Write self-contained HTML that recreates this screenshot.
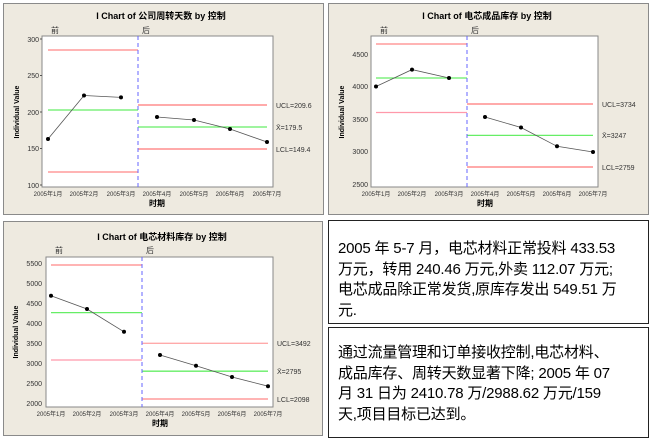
<!DOCTYPE html>
<html><head><meta charset="utf-8"><style>
body{margin:0;width:653px;height:441px;background:#fff;overflow:hidden;position:relative;font-family:"Liberation Sans","Noto Sans CJK SC",sans-serif}
.box{position:absolute;background:#fff;border:1px solid #222;box-sizing:border-box;font-family:"Liberation Sans","Noto Sans CJK SC",sans-serif;font-size:15px;color:#000;line-height:20.5px;padding-left:9px;white-space:nowrap;letter-spacing:-0.2px}
svg{position:absolute;left:0;top:0}
</style></head><body>
<svg width="653" height="441" xmlns="http://www.w3.org/2000/svg" font-family="Liberation Sans, Noto Sans CJK SC, sans-serif">
<g>
<rect x="3.5" y="3.5" width="320" height="211" fill="#eeeae0" stroke="#8a8a8a"/>
<rect x="42" y="36" width="231" height="151" fill="#fff" stroke="#888"/>
<text x="161" y="19" font-size="9" font-weight="bold" text-anchor="middle">I Chart of 公司周转天数 by 控制</text>
<text x="51" y="33" font-size="8" fill="#333">前</text><text x="142" y="33" font-size="8" fill="#333">后</text>
<g font-size="7" fill="#333" text-anchor="end"><text x="39" y="42">300</text><text x="39" y="78">250</text><text x="39" y="115">200</text><text x="39" y="151">150</text><text x="39" y="188">100</text></g>
<g stroke="#555"><line x1="40" x2="42" y1="39" y2="39"/><line x1="40" x2="42" y1="75.5" y2="75.5"/><line x1="40" x2="42" y1="112" y2="112"/><line x1="40" x2="42" y1="148.5" y2="148.5"/><line x1="40" x2="42" y1="185" y2="185"/></g>
<text transform="translate(19,112) rotate(-90)" font-size="7" font-weight="bold" text-anchor="middle">Individual Value</text>
<g stroke-width="1.3"><line x1="48" x2="138" y1="50" y2="50" stroke="#f88"/><line x1="48" x2="138" y1="110" y2="110" stroke="#6e6"/><line x1="48" x2="138" y1="172" y2="172" stroke="#f88"/>
<line x1="138" x2="267" y1="105" y2="105" stroke="#f77"/><line x1="138" x2="267" y1="127" y2="127" stroke="#6e6"/><line x1="138" x2="267" y1="149" y2="149" stroke="#f77"/></g>
<line x1="138" x2="138" y1="36" y2="187" stroke="#66f" stroke-dasharray="4,3"/>
<polyline points="48,139 84,95.5 121,97.4" fill="none" stroke="#555" stroke-width="0.8"/><polyline points="157,117 194,120 230,129 267,142" fill="none" stroke="#555" stroke-width="0.8"/>
<g fill="#000"><circle cx="48" cy="139" r="2"/><circle cx="84" cy="95.5" r="2"/><circle cx="121" cy="97.4" r="2"/><circle cx="157" cy="117" r="2"/><circle cx="194" cy="120" r="2"/><circle cx="230" cy="129" r="2"/><circle cx="267" cy="142" r="2"/></g>
<g font-size="7" fill="#333"><text x="276" y="108">UCL=209.6</text><text x="276" y="130">X̄=179.5</text><text x="276" y="152">LCL=149.4</text></g>
<g font-size="6" fill="#333" text-anchor="middle"><text x="48" y="196">2005年1月</text><text x="84" y="196">2005年2月</text><text x="121" y="196">2005年3月</text><text x="157" y="196">2005年4月</text><text x="194" y="196">2005年5月</text><text x="230" y="196">2005年6月</text><text x="267" y="196">2005年7月</text></g>
<text x="157" y="206" font-size="8" font-weight="bold" text-anchor="middle">时期</text>
</g>
<g>
<rect x="328.5" y="3.5" width="320" height="211" fill="#eeeae0" stroke="#8a8a8a"/>
<rect x="371" y="36" width="227" height="151" fill="#fff" stroke="#888"/>
<text x="487" y="19" font-size="9" font-weight="bold" text-anchor="middle">I Chart of 电芯成品库存 by 控制</text>
<text x="380" y="33" font-size="8" fill="#333">前</text><text x="471" y="33" font-size="8" fill="#333">后</text>
<g font-size="7" fill="#333" text-anchor="end"><text x="368" y="57">4500</text><text x="368" y="89">4000</text><text x="368" y="122">3500</text><text x="368" y="154">3000</text><text x="368" y="187">2500</text></g>
<text transform="translate(344,112) rotate(-90)" font-size="7" font-weight="bold" text-anchor="middle">Individual Value</text>
<g stroke-width="1.3"><line x1="376" x2="467" y1="44" y2="44" stroke="#f88"/><line x1="376" x2="467" y1="78" y2="78" stroke="#6e6"/><line x1="376" x2="467" y1="112.5" y2="112.5" stroke="#f9a"/>
<line x1="467" x2="593" y1="104" y2="104" stroke="#f77"/><line x1="467" x2="593" y1="135.4" y2="135.4" stroke="#6e6"/><line x1="467" x2="593" y1="167" y2="167" stroke="#f77"/></g>
<line x1="467" x2="467" y1="36" y2="187" stroke="#66f" stroke-dasharray="4,3"/>
<polyline points="376,86.5 412,69.6 449,78" fill="none" stroke="#555" stroke-width="0.8"/><polyline points="485,117 521,127.5 557,146.3 593,152" fill="none" stroke="#555" stroke-width="0.8"/>
<g fill="#000"><circle cx="376" cy="86.5" r="2"/><circle cx="412" cy="69.6" r="2"/><circle cx="449" cy="78" r="2"/><circle cx="485" cy="117" r="2"/><circle cx="521" cy="127.5" r="2"/><circle cx="557" cy="146.3" r="2"/><circle cx="593" cy="152" r="2"/></g>
<g font-size="7" fill="#333"><text x="602" y="107">UCL=3734</text><text x="602" y="138">X̄=3247</text><text x="602" y="170">LCL=2759</text></g>
<g font-size="6" fill="#333" text-anchor="middle"><text x="376" y="196">2005年1月</text><text x="412" y="196">2005年2月</text><text x="449" y="196">2005年3月</text><text x="485" y="196">2005年4月</text><text x="521" y="196">2005年5月</text><text x="557" y="196">2005年6月</text><text x="593" y="196">2005年7月</text></g>
<text x="485" y="206" font-size="8" font-weight="bold" text-anchor="middle">时期</text>
</g>
<g>
<rect x="3.5" y="221.5" width="319" height="214" fill="#eeeae0" stroke="#8a8a8a"/>
<rect x="46" y="257" width="227" height="150" fill="#fff" stroke="#888"/>
<text x="162" y="240" font-size="9" font-weight="bold" text-anchor="middle">I Chart of 电芯材料库存 by 控制</text>
<text x="55" y="253" font-size="8" fill="#333">前</text><text x="146" y="253" font-size="8" fill="#333">后</text>
<g font-size="7" fill="#333" text-anchor="end"><text x="42" y="266">5500</text><text x="42" y="286">5000</text><text x="42" y="306">4500</text><text x="42" y="326">4000</text><text x="42" y="346">3500</text><text x="42" y="366">3000</text><text x="42" y="386">2500</text><text x="42" y="406">2000</text></g>
<text transform="translate(18,332) rotate(-90)" font-size="7" font-weight="bold" text-anchor="middle">Individual Value</text>
<g stroke-width="1.3"><line x1="51" x2="142" y1="265" y2="265" stroke="#f88"/><line x1="51" x2="142" y1="312.6" y2="312.6" stroke="#6e6"/><line x1="51" x2="142" y1="360" y2="360" stroke="#f9a"/>
<line x1="142" x2="268" y1="343.3" y2="343.3" stroke="#faa"/><line x1="142" x2="268" y1="371.2" y2="371.2" stroke="#6e6"/><line x1="142" x2="268" y1="399" y2="399" stroke="#f88"/></g>
<line x1="142" x2="142" y1="257" y2="407" stroke="#66f" stroke-dasharray="4,3"/>
<polyline points="51,295.8 87,309 124,331.8" fill="none" stroke="#555" stroke-width="0.8"/><polyline points="160,355 196,365.8 232,377 268,386.2" fill="none" stroke="#555" stroke-width="0.8"/>
<g fill="#000"><circle cx="51" cy="295.8" r="2"/><circle cx="87" cy="309" r="2"/><circle cx="124" cy="331.8" r="2"/><circle cx="160" cy="355" r="2"/><circle cx="196" cy="365.8" r="2"/><circle cx="232" cy="377" r="2"/><circle cx="268" cy="386.2" r="2"/></g>
<g font-size="7" fill="#333"><text x="277" y="346">UCL=3492</text><text x="277" y="374">X̄=2795</text><text x="277" y="402">LCL=2098</text></g>
<g font-size="6" fill="#333" text-anchor="middle"><text x="51" y="416">2005年1月</text><text x="87" y="416">2005年2月</text><text x="124" y="416">2005年3月</text><text x="160" y="416">2005年4月</text><text x="196" y="416">2005年5月</text><text x="232" y="416">2005年6月</text><text x="268" y="416">2005年7月</text></g>
<text x="160" y="426" font-size="8" font-weight="bold" text-anchor="middle">时期</text>
</g>
</svg>
<div class="box" style="left:328px;top:220px;width:321px;height:104px;padding-top:18px">2005 年 5-7 月，电芯材料正常投料 433.53<br>万元，转用 240.46 万元,外卖 112.07 万元;<br>电芯成品除正常发货,原库存发出 549.51 万<br>元.</div>
<div class="box" style="left:328px;top:327px;width:321px;height:111px;padding-top:15px">通过流量管理和订单接收控制,电芯材料、<br>成品库存、周转天数显著下降; 2005 年 07<br>月 31 日为 2410.78 万/2988.62 万元/159<br>天,项目目标已达到。</div>
</body></html>
